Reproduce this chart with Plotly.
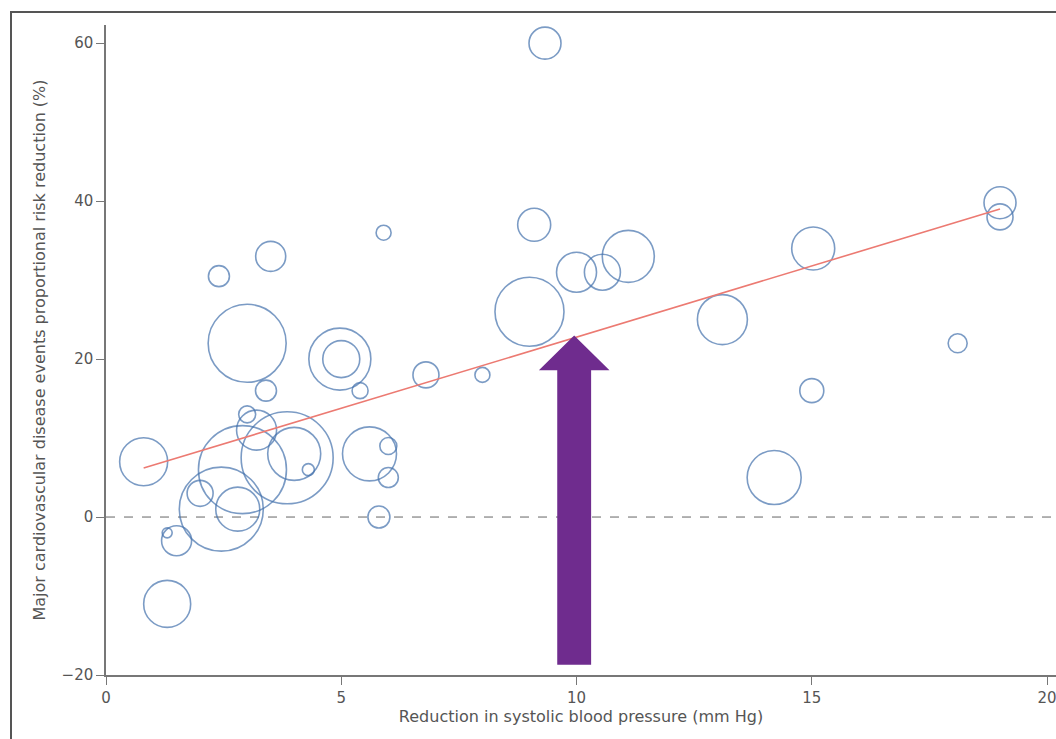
import plotly.graph_objects as go

# Trial bubbles: reduction in SBP (mm Hg), proportional risk reduction (%), bubble diameter (px)
bp_reduction = [9.33, 5.9, 9.1, 10.0, 10.55, 11.1, 9.0, 15.03, 13.1, 19.0, 19.0, 18.1, 15.0, 14.2,
                2.4, 3.5, 3.0, 3.4, 4.97, 5.0, 5.4, 6.8, 8.0, 5.6, 6.0, 6.0, 5.8,
                0.8, 1.3, 1.5, 1.3, 2.0, 2.8, 2.45, 3.85, 4.0, 4.3, 3.2, 3.0, 2.9]
risk_reduction = [60, 36, 37, 31, 31, 33, 26, 34, 25, 39.8, 38, 22, 16, 5,
                  30.5, 33, 22, 16, 20, 20, 16, 18, 18, 8, 9, 5, 0,
                  7, -11, -3, -2, 3, 1, 1, 7.5, 8, 6, 11, 13, 6]
bubble_size = [32, 15, 33, 40, 36, 52, 69, 43, 50, 32, 26, 19, 24, 54,
               21, 30, 78, 21, 62, 37, 16, 26, 15, 54, 17, 20, 22,
               48, 47, 30, 10, 26, 44, 84, 92, 53, 12, 40, 17, 88]

# Meta-regression line end points
fit_x = [0.8, 19.0]
fit_y = [6.2, 39.0]

x_ticks = [0, 5, 10, 15, 20]
y_ticks = [-20, 0, 20, 40, 60]

# Arrow annotation (data units)
arrow_x = 9.95
arrow_bottom = -18.7
arrow_tip = 23.0
shaft_half = 0.36
head_half = 0.75
head_len = 4.4

fig = go.Figure()

fig.add_trace(go.Scatter(
    x=bp_reduction, y=risk_reduction, mode="markers",
    marker=dict(size=bubble_size, sizemode="diameter", color="rgba(0,0,0,0)",
                line=dict(color="#4472ad", width=1.6)),
    showlegend=False, hoverinfo="x+y"))

fig.add_trace(go.Scatter(
    x=fit_x, y=fit_y, mode="lines",
    line=dict(color="#ec7a72", width=1.6), showlegend=False))

# zero reference line
fig.add_shape(type="line", xref="paper", x0=0, x1=1, yref="y", y0=0, y1=0,
              line=dict(color="#666666", width=1, dash="dash"), layer="below")

# purple arrow
hb = arrow_tip - head_len
path = (f"M {arrow_x - shaft_half} {arrow_bottom} L {arrow_x + shaft_half} {arrow_bottom} "
        f"L {arrow_x + shaft_half} {hb} L {arrow_x + head_half} {hb} L {arrow_x} {arrow_tip} "
        f"L {arrow_x - head_half} {hb} L {arrow_x - shaft_half} {hb} Z")
fig.add_shape(type="path", path=path, xref="x", yref="y",
              fillcolor="#6f2c8e", line=dict(width=0), layer="above")

# outer frame
fig.add_shape(type="rect", xref="paper", yref="paper", x0=-0.1, x1=1.2, y0=-0.3, y1=1.02,
              line=dict(color="#555555", width=2), fillcolor="rgba(0,0,0,0)", layer="above")

fig.update_xaxes(range=[0, 20.19], tickvals=x_ticks, ticktext=[str(v) for v in x_ticks],
                 showgrid=False, zeroline=False, showline=True, linecolor="#777777", linewidth=1.5,
                 ticks="outside", ticklen=8, tickcolor="#777777", ticklabeloverflow="allow",
                 tickfont=dict(family="DejaVu Sans", size=15, color="#555555"),
                 title=dict(text="Reduction in systolic blood pressure (mm Hg)", standoff=4,
                            font=dict(family="DejaVu Sans", size=16, color="#555555")))
fig.update_yaxes(range=[-20, 62.3], tickvals=y_ticks, ticktext=["−20", "0", "20", "40", "60"],
                 showgrid=False, zeroline=False, showline=True, linecolor="#777777", linewidth=1.5,
                 ticks="outside", ticklen=8, tickcolor="#777777",
                 tickfont=dict(family="DejaVu Sans", size=15, color="#555555"),
                 title=dict(text="Major cardiovascular disease events proportional risk reduction (%)",
                            standoff=12,
                            font=dict(family="DejaVu Sans", size=16, color="#555555")))

fig.update_layout(width=1056, height=739, margin=dict(l=106, r=0, t=25, b=64),
                  plot_bgcolor="white", paper_bgcolor="white")

fig.write_html("out.html")
